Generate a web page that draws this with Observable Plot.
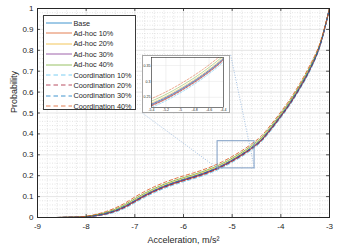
<!DOCTYPE html>
<html><head><meta charset="utf-8">
<script src="https://cdn.jsdelivr.net/npm/d3@7"></script>
<script src="https://cdn.jsdelivr.net/npm/@observablehq/plot@0.6"></script>
<style>
body{margin:0;background:#fff;font-family:"Liberation Sans",Arial,sans-serif;}
#wrap{position:relative;width:342px;height:250px;overflow:hidden;}
#legend{position:absolute;left:43px;top:15px;width:93px;height:95px;border:1px solid #3a3a3a;background:#fff;box-sizing:border-box;}
.row{position:absolute;left:0;height:10px;display:flex;align-items:center;font-size:7.3px;color:#262626;white-space:nowrap;}
.row svg{margin-left:2px;margin-right:1.5px;}
#inset{position:absolute;background:#fff;border:1px solid #a6a6a6;box-sizing:border-box;}
</style></head>
<body><div id="wrap"></div>
<script>
// ---- data ----
const xs = [-8.6,-8.4,-8.2,-8.0,-7.8,-7.6,-7.4,-7.2,-7.0,-6.8,-6.6,-6.4,-6.2,-6.0,-5.8,-5.6,-5.4,-5.2,-5.0,-4.8,-4.6,-4.4,-4.2,-4.0,-3.8,-3.6,-3.4,-3.2,-3.0];
const base      = [0,.001,.002,.004,.009,.018,.032,.052,.078,.104,.127,.147,.164,.179,.193,.208,.226,.247,.272,.300,.332,.370,.425,.485,.550,.625,.710,.820,1];
const adhoc10   = [0,.001,.002,.004,.008,.017,.031,.050,.076,.102,.125,.145,.162,.177,.191,.206,.224,.245,.270,.298,.330,.368,.423,.483,.548,.623,.708,.819,1];
const adhoc20   = [0,.001,.002,.005,.011,.021,.036,.057,.084,.110,.133,.153,.170,.185,.199,.214,.232,.253,.278,.306,.338,.376,.431,.491,.556,.631,.716,.824,1];
const adhoc30   = [0,.001,.002,.004,.010,.019,.033,.054,.080,.106,.129,.149,.166,.181,.195,.210,.228,.249,.274,.302,.334,.372,.427,.487,.552,.627,.712,.821,1];
const adhoc40   = [0,.001,.002,.005,.013,.024,.040,.062,.090,.116,.139,.159,.176,.191,.205,.220,.238,.259,.284,.312,.344,.382,.437,.497,.562,.637,.722,.827,1];
const coord10   = [0,.001,.002,.003,.007,.014,.026,.045,.070,.096,.119,.139,.156,.171,.185,.200,.218,.239,.264,.292,.324,.362,.417,.477,.542,.617,.702,.815,1];
const coord20   = [0,.001,.002,.004,.008,.016,.030,.049,.075,.101,.124,.144,.161,.176,.190,.205,.223,.244,.269,.297,.329,.367,.422,.482,.547,.622,.707,.818,1];
const coord30   = [0,.001,.002,.004,.010,.020,.034,.055,.081,.107,.130,.150,.167,.182,.196,.211,.229,.250,.275,.303,.335,.373,.428,.488,.553,.628,.713,.822,1];
const coord40   = [0,.001,.002,.006,.015,.028,.046,.069,.098,.124,.147,.167,.184,.199,.213,.228,.246,.267,.292,.320,.352,.390,.445,.505,.570,.645,.730,.832,1];
const seriesNames = ["Base","Ad-hoc 10%","Ad-hoc 20%","Ad-hoc 30%","Ad-hoc 40%","Coordination 10%","Coordination 20%","Coordination 30%","Coordination 40%"];
const seriesValues = [base,adhoc10,adhoc20,adhoc30,adhoc40,coord10,coord20,coord30,coord40];
const seriesColors = ["#0072BD","#D95319","#EDB120","#7E2F8E","#77AC30","#4DBEEE","#A2142F","#0072BD","#D95319"];
const seriesDashed = [false,false,false,false,false,true,true,true,true];
const xTicks = [-9,-8,-7,-6,-5,-4,-3];
const yTicks = [0,0.1,0.2,0.3,0.4,0.5,0.6,0.7,0.8,0.9,1];
const yTickLabels = ["0","0.1","0.2","0.3","0.4","0.5","0.6","0.7","0.8","0.9","1"];
const xLabel = "Acceleration, m/s²";
const yLabel = "Probability";
const insetXTicks = [-5.4,-5.2,-5,-4.8,-4.6,-4.4];
const insetYTicks = [0.25,0.3,0.35];
const insetYTickLabels = ["0.25","0.3","0.35"];

// ---- annotation geometry (main data coordinates) ----
const zoomBox = {x1:-5.3, x2:-4.54, y1:0.235, y2:0.365};
const insetPanel = {x1:-6.84, x2:-5.03, y1:0.499, y2:0.777};

const rows = [];
seriesValues.forEach((vals,s)=>vals.forEach((v,i)=>rows.push({s, x: xs[i], y: v})));
const xMinor = d3.range(-9,-3.0001,0.2).filter(v=>Math.abs(v-Math.round(v))>1e-6);
const yMinor = d3.range(0,1.0001,0.02).filter(v=>Math.abs(v*10-Math.round(v*10))>1e-6);

function curveMarks(){
  return seriesValues.map((vals,s)=>Plot.line(rows.filter(r=>r.s===s),{
    x:"x",y:"y",curve:"monotone-x",stroke:seriesColors[s],strokeWidth:0.9,strokeOpacity:0.9,
    strokeDasharray: seriesDashed[s] ? "3.5,2.5" : null
  }));
}

const ink = "#262626";
const main = Plot.plot({
  width:342,height:250,marginLeft:37,marginRight:13,marginTop:8,marginBottom:33,
  style:{fontFamily:'"Liberation Sans",Arial,sans-serif',background:"#fff",color:ink},
  x:{domain:[-9,-3]}, y:{domain:[0,1]},
  marks:[
    Plot.ruleX(xMinor,{stroke:"#d2d2d2",strokeWidth:0.6,strokeDasharray:"1,1.5"}),
    Plot.ruleY(yMinor,{stroke:"#d2d2d2",strokeWidth:0.6,strokeDasharray:"1,1.5"}),
    Plot.ruleX(xTicks,{stroke:"#dedede",strokeWidth:0.8}),
    Plot.ruleY(yTicks,{stroke:"#dedede",strokeWidth:0.8}),
    ...curveMarks(),
    Plot.rect([zoomBox],{x1:"x1",x2:"x2",y1:"y1",y2:"y2",stroke:"#7d9cc4",fill:"none",strokeWidth:1}),
    Plot.link([
      {ax:insetPanel.x1, ay:insetPanel.y1, bx:zoomBox.x1, by:zoomBox.y1},
      {ax:insetPanel.x2, ay:insetPanel.y2, bx:zoomBox.x2, by:zoomBox.y1}
    ],{x1:"ax",y1:"ay",x2:"bx",y2:"by",stroke:"#8fb3da",strokeWidth:0.8,strokeDasharray:"1,1.5"}),
    Plot.ruleX(xTicks,{y1:0,y2:0.014,stroke:ink,strokeWidth:0.8}),
    Plot.ruleX(xTicks,{y1:1,y2:0.986,stroke:ink,strokeWidth:0.8}),
    Plot.ruleY(yTicks,{x1:-9,x2:-8.94,stroke:ink,strokeWidth:0.8}),
    Plot.ruleY(yTicks,{x1:-3,x2:-3.06,stroke:ink,strokeWidth:0.8}),
    Plot.frame({stroke:ink,strokeWidth:1}),
    Plot.axisX(xTicks,{tickSize:0,tickPadding:6,fontSize:8,label:null,tickFormat:d=>String(d)}),
    Plot.axisY(yTicks,{tickSize:0,tickPadding:4,fontSize:8,label:null,tickFormat:(d,i)=>yTickLabels[i]}),
    Plot.text([xLabel],{frameAnchor:"bottom",dy:25,fontSize:9,fill:ink}),
    Plot.text([yLabel],{frameAnchor:"left",dx:-23,rotate:-90,fontSize:9,fill:ink})
  ]
});
const wrap = document.getElementById("wrap");
wrap.appendChild(main);

// legend
const leg = document.createElement("div");
leg.id="legend";
seriesNames.forEach((n,i)=>{
  const r=document.createElement("div");
  r.className="row";
  r.style.top=(2+i*10.4)+"px";
  r.innerHTML=`<svg width="26" height="6"><line x1="0" y1="3" x2="26" y2="3" stroke="${seriesColors[i]}" stroke-width="1" stroke-opacity="0.75" ${seriesDashed[i]?'stroke-dasharray="4.5,3"':''}/></svg><span>${n}</span>`;
  leg.appendChild(r);
});
wrap.appendChild(leg);

// inset
const sx = main.scale("x"), sy = main.scale("y");
const px1 = sx.apply(insetPanel.x1), px2 = sx.apply(insetPanel.x2);
const py1 = sy.apply(insetPanel.y2), py2 = sy.apply(insetPanel.y1);
const iw = Math.round(px2-px1), ih = Math.round(py2-py1);
const inset = document.createElement("div");
inset.id="inset";
inset.style.left=Math.round(px1)+"px"; inset.style.top=Math.round(py1)+"px";
inset.style.width=iw+"px"; inset.style.height=ih+"px";
const ip = Plot.plot({
  width:iw-2,height:ih-2,marginLeft:8,marginRight:6,marginTop:1,marginBottom:5,
  style:{fontFamily:'"Liberation Sans",Arial,sans-serif',background:"#fff",color:ink,overflow:"visible"},
  x:{domain:[-5.4,-4.4]}, y:{domain:[0.218,0.375]},
  marks:[
    Plot.ruleX(insetXTicks,{stroke:"#e3e3e3",strokeWidth:0.5}),
    Plot.ruleY(insetYTicks,{stroke:"#e3e3e3",strokeWidth:0.5}),
    ...seriesValues.map((vals,s)=>Plot.line(rows.filter(r=>r.s===s),{
      x:"x",y:"y",curve:"monotone-x",stroke:seriesColors[s],strokeWidth:0.6,strokeOpacity:0.8,clip:true,
      strokeDasharray: seriesDashed[s] ? "2,1.5" : null})),
    Plot.frame({stroke:ink,strokeWidth:0.6}),
    Plot.axisX(insetXTicks,{tickSize:0,tickPadding:1,fontSize:3.6,label:null,tickFormat:d=>String(d)}),
    Plot.axisY(insetYTicks,{tickSize:0,tickPadding:1,fontSize:3.6,label:null,tickFormat:(d,i)=>insetYTickLabels[i]})
  ]
});
inset.appendChild(ip);
wrap.appendChild(inset);
</script></body></html>
